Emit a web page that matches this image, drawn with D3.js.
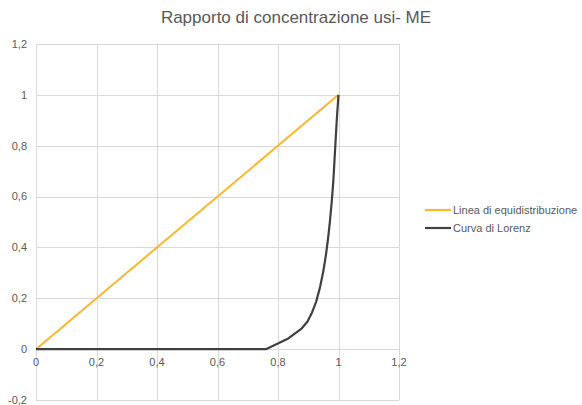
<!DOCTYPE html>
<html>
<head>
<meta charset="utf-8">
<script src="https://cdn.jsdelivr.net/npm/d3@7"></script>
<style>
  html, body { margin: 0; padding: 0; background: #fff; }
  svg { display: block; font-family: "Liberation Sans", Arial, sans-serif; }
</style>
</head>
<body>
<svg id="chart" width="582" height="405"></svg>
<script>
// Chart title and series names
const title = "Rapporto di concentrazione usi- ME";
const seriesNames = ["Linea di equidistribuzione", "Curva di Lorenz"];

// Equidistribution line (x, y)
const equiX = [0, 1];
const equiY = [0, 1];

// Lorenz curve (cumulative share x, cumulative share y)
const lorenzX = [0, 0.76, 0.834, 0.878, 0.897, 0.911, 0.926, 0.939, 0.950, 0.959, 0.966, 0.972, 0.978, 0.983, 0.987, 0.991, 0.995, 1];
const lorenzY = [0, 0, 0.042, 0.081, 0.108, 0.14, 0.186, 0.244, 0.307, 0.375, 0.44, 0.506, 0.585, 0.663, 0.748, 0.833, 0.915, 1];

// Axis ticks
const xTicks = [0, 0.2, 0.4, 0.6, 0.8, 1, 1.2];
const yTicks = [-0.2, 0, 0.2, 0.4, 0.6, 0.8, 1, 1.2];

const colors = ["#FDB62F", "#404040"];
const fmt = v => String(+v.toFixed(1)).replace(".", ",");

const svg = d3.select("#chart");
const x = d3.scaleLinear().domain([0, 1.2]).range([36, 399]);
const y = d3.scaleLinear().domain([-0.2, 1.2]).range([400, 44]);

// Grid
const grid = svg.append("g").attr("stroke", "#d9d9d9").attr("stroke-width", 1);
grid.selectAll("line.h").data(yTicks).join("line")
  .attr("x1", x(0)).attr("x2", x(1.2))
  .attr("y1", d => Math.round(y(d)) + 0.5).attr("y2", d => Math.round(y(d)) + 0.5);
grid.selectAll("line.v").data(xTicks).join("line")
  .attr("y1", y(1.2)).attr("y2", y(-0.2))
  .attr("x1", d => Math.round(x(d)) + 0.5).attr("x2", d => Math.round(x(d)) + 0.5);

// Y tick labels
svg.append("g").selectAll("text").data(yTicks).join("text")
  .attr("x", 27).attr("y", d => y(d)).attr("dy", "0.35em")
  .attr("text-anchor", "end").attr("font-size", 11).attr("fill", "#595959")
  .text(fmt);

// X tick labels (sit just below the zero line)
svg.append("g").selectAll("text").data(xTicks).join("text")
  .attr("x", d => x(d)).attr("y", y(0) + 13).attr("dy", "0.35em")
  .attr("text-anchor", "middle").attr("font-size", 11).attr("fill", "#595959")
  .text(fmt);

// Series
const line = d3.line().x(d => x(d[0])).y(d => y(d[1]));
svg.append("path")
  .datum(d3.zip(equiX, equiY))
  .attr("fill", "none").attr("stroke", colors[0]).attr("stroke-width", 2)
  .attr("d", line);
svg.append("path")
  .datum(d3.zip(lorenzX, lorenzY))
  .attr("fill", "none").attr("stroke", colors[1]).attr("stroke-width", 2.2)
  .attr("stroke-linejoin", "round")
  .attr("d", line);

// Title
svg.append("text")
  .attr("x", 296).attr("y", 23).attr("text-anchor", "middle")
  .attr("font-size", 17).attr("fill", "#595959")
  .text(title);

// Legend
const legend = svg.append("g").selectAll("g").data(seriesNames).join("g")
  .attr("transform", (d, i) => `translate(425, ${210 + i * 18})`);
legend.append("line").attr("x1", 0).attr("x2", 26)
  .attr("stroke", (d, i) => colors[i]).attr("stroke-width", 2.2);
legend.append("text").attr("x", 28).attr("dy", "0.35em")
  .attr("font-size", 11).attr("fill", "#595959").text(d => d);
</script>
</body>
</html>
